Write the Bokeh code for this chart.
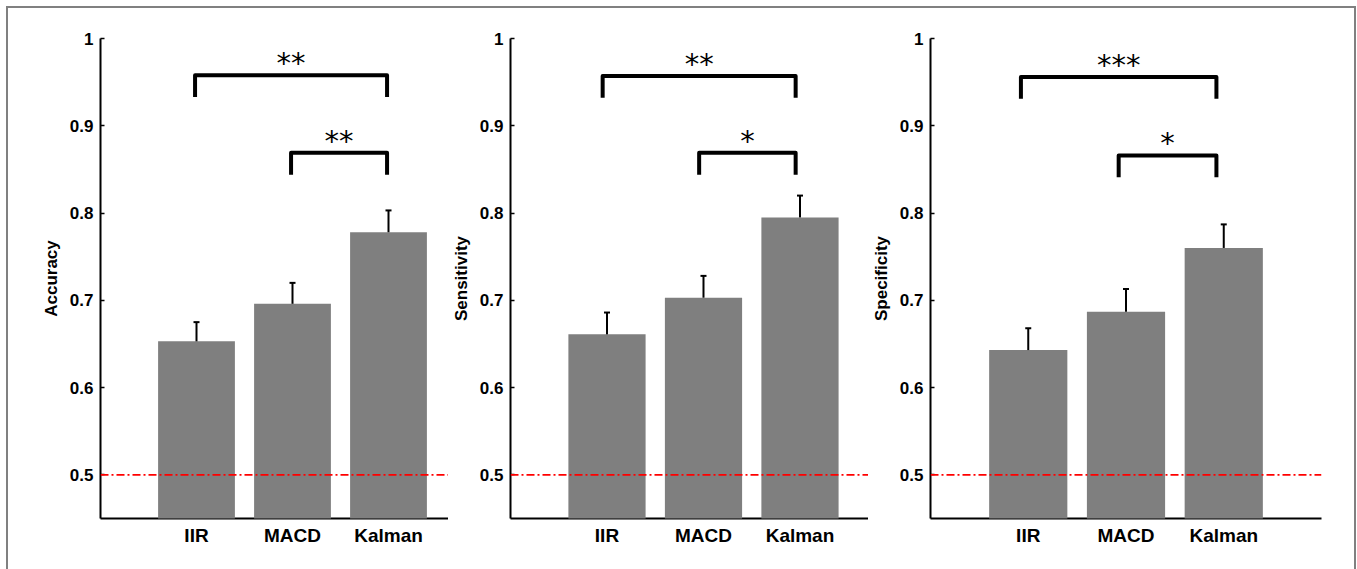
from bokeh.plotting import figure
from bokeh.layouts import row, column
from bokeh.models import FixedTicker, Range1d, Span, ColumnDataSource, Spacer
from bokeh.core.properties import value
from bokeh.embed import file_html
from bokeh.resources import INLINE

# ---------------- data ----------------
categories = ["IIR", "MACD", "Kalman"]
positions = [1, 2, 3]

accuracy = [0.653, 0.696, 0.778]
accuracy_err = [0.022, 0.024, 0.025]

sensitivity = [0.661, 0.703, 0.795]
sensitivity_err = [0.025, 0.025, 0.025]

specificity = [0.643, 0.687, 0.760]
specificity_err = [0.025, 0.026, 0.027]

comparisons = [(0, 2), (1, 2)]
accuracy_stars = ["**", "**"]
sensitivity_stars = ["**", "*"]
specificity_stars = ["***", "*"]

y_ticks = [0.5, 0.6, 0.7, 0.8, 0.9, 1.0]
y_tick_labels = ["0.5", "0.6", "0.7", "0.8", "0.9", "1"]
chance_level = 0.5

# ---------------- layout / style per panel ----------------
panels = [
    dict(label="Accuracy", vals=accuracy, errs=accuracy_err, stars=accuracy_stars,
         width=440, left=92, right=0, x_end=3.625,
         bracket_tops=[0.958, 0.869], offset=-0.015),
    dict(label="Sensitivity", vals=sensitivity, errs=sensitivity_err, stars=sensitivity_stars,
         width=420, left=62, right=0, x_end=3.71,
         bracket_tops=[0.957, 0.869], offset=-0.045),
    dict(label="Specificity", vals=specificity, errs=specificity_err, stars=specificity_stars,
         width=486, left=62, right=33, x_end=4.0,
         bracket_tops=[0.956, 0.866], offset=-0.075),
]

FIG_H = 561
TOP = 30
BOTTOM = 51
LEG_DROP = 0.025
FONT = "Liberation Sans"

figs = []
for pan in panels:
    p = figure(width=pan["width"], height=FIG_H, output_backend="svg",
               toolbar_location=None, title=None,
               x_range=Range1d(0, pan["x_end"]), y_range=Range1d(0.45, 1.0),
               min_border_left=pan["left"], min_border_right=pan["right"],
               min_border_top=TOP, min_border_bottom=BOTTOM)
    p.outline_line_color = None
    p.xgrid.visible = False
    p.ygrid.visible = False
    p.background_fill_color = "white"
    p.border_fill_color = "white"

    # x axis
    xa = p.xaxis[0]
    xa.ticker = FixedTicker(ticks=positions)
    xa.major_label_overrides = {pos: c for pos, c in zip(positions, categories)}
    xa.major_tick_in = 0
    xa.major_tick_out = 0
    xa.minor_tick_in = 0
    xa.minor_tick_out = 0
    xa.axis_line_width = 2
    xa.axis_line_color = "black"
    xa.major_label_text_font = FONT
    xa.major_label_text_font_style = "bold"
    xa.major_label_text_font_size = "19px"
    xa.major_label_text_color = "black"
    xa.major_label_standoff = 6

    # y axis
    ya = p.yaxis[0]
    ya.ticker = FixedTicker(ticks=y_ticks)
    ya.major_label_overrides = {t: l for t, l in zip(y_ticks, y_tick_labels)}
    ya.major_tick_in = 4
    ya.major_tick_out = 0
    ya.minor_tick_in = 0
    ya.minor_tick_out = 0
    ya.major_tick_line_width = 1.5
    ya.axis_line_width = 2
    ya.axis_line_color = "black"
    ya.major_label_text_font = FONT
    ya.major_label_text_font_style = "bold"
    ya.major_label_text_font_size = "17px"
    ya.major_label_text_color = "black"
    ya.major_label_standoff = 7
    ya.axis_label = pan["label"]
    ya.axis_label_text_font = FONT
    ya.axis_label_text_font_style = "bold"
    ya.axis_label_text_font_size = "17px"
    ya.axis_label_text_color = "black"
    ya.axis_label_standoff = 6

    vals = pan["vals"]
    errs = pan["errs"]
    tops = [v + e for v, e in zip(vals, errs)]
    src = ColumnDataSource(dict(x=positions, top=vals, err_top=tops))

    bars = p.vbar(x="x", top="top", bottom=0, width=0.8, source=src,
                  fill_color="#7f7f7f", line_color=None)
    bars.level = "annotation"
    stem = p.segment(x0="x", y0="top", x1="x", y1="err_top", source=src,
                     line_color="black", line_width=2)
    stem.level = "annotation"
    cap = p.scatter(x="x", y="err_top", source=src, marker="dash", size=6,
                    line_color="black", line_width=2)
    cap.level = "annotation"

    span = Span(location=chance_level, dimension="width", line_color="red",
                line_width=1.6, line_dash="8 3 2 3", level="overlay")
    p.add_layout(span)

    off = pan["offset"]
    for (i, j), stars, top in zip(comparisons, pan["stars"], pan["bracket_tops"]):
        x0 = positions[i] + off
        x1 = positions[j] + off
        p.line(x=[x0, x0, x1, x1], y=[top - LEG_DROP, top, top, top - LEG_DROP],
               line_color="black", line_width=4, line_join="round")
        p.text(x=[(x0 + x1) / 2], y=[top], text=[stars], text_align="center",
               text_baseline="alphabetic", text_font=value("DejaVu Sans"),
               text_font_size="29px", text_color="black", y_offset=-12)
    figs.append(p)

framed = row(*figs, styles={"border-left": "2px solid #808080",
                            "border-top": "2px solid #808080",
                            "border-right": "2px solid #808080"})
layout = column(Spacer(height=6), row(Spacer(width=6), framed))

open("out.html", "w").write(file_html(layout, INLINE))
